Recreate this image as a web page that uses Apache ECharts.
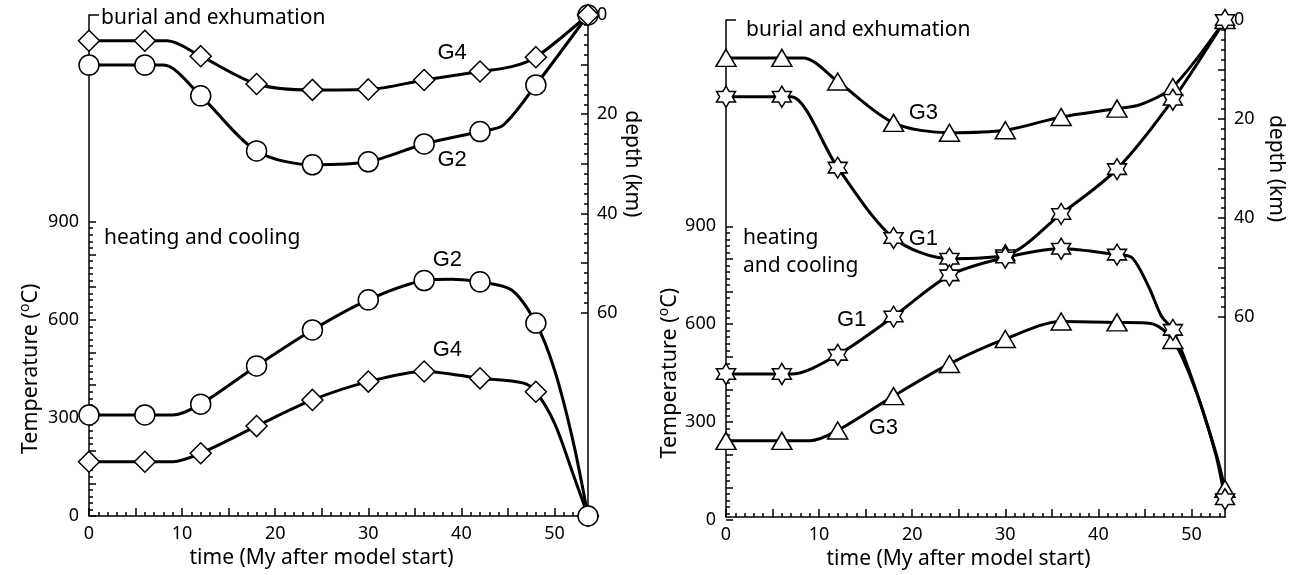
<!DOCTYPE html>
<html>
<head>
<meta charset="utf-8">
<script src="https://cdn.jsdelivr.net/npm/echarts@6/dist/echarts.min.js"></script>
<style>
  html, body { margin: 0; padding: 0; background: #fff; }
  #chart { width: 1297px; height: 575px; }
</style>
</head>
<body>
<div id="chart"></div>
<script>
// Times of the plotted markers (My after model start)
const markTimes = [0, 6, 12, 18, 24, 30, 36, 42, 48, 53.6];

// Left panel: G2 (circles) and G4 (diamonds)
const g2DepthMarks = [10.1, 10.1, 16.3, 27.4, 30.2, 29.6, 26.0, 23.5, 14.1, 0];
const g2DepthExtraT = [8, 44.5];
const g2DepthExtraV = [10.1, 22.2];
const g4DepthMarks = [5.2, 5.2, 8.3, 13.9, 15.1, 15.0, 13.1, 11.4, 8.5, 0];
const g4DepthExtraT = [8.4, 45.4];
const g4DepthExtraV = [5.2, 10.4];
const g2TempMarks = [309, 309, 342, 459, 569, 661, 720, 716, 590, 0];
const g2TempExtraT = [9, 39, 45.4, 50, 52];
const g2TempExtraV = [309, 724, 691, 447, 228];
const g4TempMarks = [166, 166, 192, 275, 355, 411, 442, 421, 380, 0];
const g4TempExtraT = [9, 46.6, 50, 52];
const g4TempExtraV = [166, 407, 284, 128];

// Right panel: G1 (stars) and G3 (triangles)
const g3DepthMarks = [7.7, 7.7, 12.5, 20.9, 22.9, 22.4, 19.7, 18.0, 13.6, 0];
const g3DepthExtraT = [8.3, 44.5];
const g3DepthExtraV = [7.7, 17.2];
const g1DepthMarks = [15.6, 15.6, 30.0, 44.3, 48.5, 47.8, 39.4, 30.3, 16.2, 0];
const g1DepthExtraT = [7];
const g1DepthExtraV = [15.6];
const g1TempMarks = [441, 441, 500, 618, 745, 800, 827, 809, 577, 55];
const g1TempExtraT = [7, 43.6, 45.4, 46.8, 50.4, 52.6];
const g1TempExtraV = [441, 800, 710, 618, 398, 194];
const g3TempMarks = [235, 235, 267, 373, 472, 549, 603, 600, 546, 87];
const g3TempExtraT = [9, 45.6, 50.4, 52.6];
const g3TempExtraV = [235, 597, 395, 200];

// Axis tick labels
const timeLabels = [0, 10, 20, 30, 40, 50];
const tempLabels = [0, 300, 600, 900];
const depthLabels = [0, 20, 40, 60];

// Curve labels: [text, time, value, 'temp' | 'depth']
const leftNotes = [['G4', 39.0, 7.7, 'depth'], ['G2', 39.0, 29.2, 'depth'], ['G2', 38.5, 783, 'temp'], ['G4', 38.5, 508, 'temp']];
const rightNotes = [['G3', 21.2, 18.8, 'depth'], ['G1', 21.2, 44.4, 'depth'], ['G1', 13.5, 607, 'temp'], ['G3', 16.9, 276, 'temp']];

const XMAX = 53.6, TMAX = 1532, DMAX = 101, TTOP = 900, DBOT = 60;
const FONT = 'Noto Sans';

const STAR = 'path://M50 0L64.43 25L93.3 25L78.87 50L93.3 75L64.43 75L50 100L35.57 75L6.7 75L21.13 50L6.7 25L35.57 25Z';

function curve(marks, extraT, extraV) {
  const pts = markTimes.map((t, i) => [t, marks[i]]);
  extraT.forEach((t, i) => pts.push([t, extraV[i]]));
  return pts.sort((a, b) => a[0] - b[0]);
}
function markers(marks) { return markTimes.map((t, i) => [t, marks[i]]); }

const panels = [
  { left: 89, top: 15, width: 499, height: 501, tGap: 46, dGap: 32, xGap: 26,
    curves: [
      { d: curve(g2DepthMarks, g2DepthExtraT, g2DepthExtraV), m: markers(g2DepthMarks), sym: 'circle', size: 20, ax: 'depth' },
      { d: curve(g4DepthMarks, g4DepthExtraT, g4DepthExtraV), m: markers(g4DepthMarks), sym: 'diamond', size: 21, ax: 'depth' },
      { d: curve(g4TempMarks, g4TempExtraT, g4TempExtraV), m: markers(g4TempMarks), sym: 'diamond', size: 21, ax: 'temp' },
      { d: curve(g2TempMarks, g2TempExtraT, g2TempExtraV), m: markers(g2TempMarks), sym: 'circle', size: 20, ax: 'temp' }
    ],
    notes: leftNotes,
    texts: [['burial and exhumation', 101, 18], ['heating and cooling', 104, 238]]
  },
  { left: 726, top: 20, width: 499, height: 500, tGap: 44, dGap: 40, xGap: 26,
    curves: [
      { d: curve(g3DepthMarks, g3DepthExtraT, g3DepthExtraV), m: markers(g3DepthMarks), sym: 'triangle', size: [20, 17], ax: 'depth' },
      { d: curve(g1DepthMarks, g1DepthExtraT, g1DepthExtraV), m: markers(g1DepthMarks), sym: STAR, size: [19, 21], ax: 'depth' },
      { d: curve(g3TempMarks, g3TempExtraT, g3TempExtraV), m: markers(g3TempMarks), sym: 'triangle', size: [20, 17], ax: 'temp' },
      { d: curve(g1TempMarks, g1TempExtraT, g1TempExtraV), m: markers(g1TempMarks), sym: STAR, size: [19, 21], ax: 'temp' }
    ],
    notes: rightNotes,
    texts: [['burial and exhumation', 746, 30], ['heating', 743, 238], ['and cooling', 743, 266]]
  }
];

const grid = [], xAxis = [], yAxis = [], series = [], graphic = [];
const tickLabel = { color: '#000', fontFamily: FONT, fontSize: 18 };
const lineStyle = { color: '#000', width: 1.5 };

panels.forEach((p, pi) => {
  const g0 = grid.length;
  // main plotting area
  grid.push({ left: p.left, top: p.top, width: p.width, height: p.height });
  // tick range of the temperature axis (0-900)
  const tH = p.height * TTOP / TMAX;
  grid.push({ left: p.left, top: p.top + p.height - tH, width: p.width, height: tH });
  // tick range of the depth axis (0-60 km)
  const dH = p.height * DBOT / DMAX;
  grid.push({ left: p.left, top: p.top, width: p.width, height: dH });

  const xMain = xAxis.length;
  xAxis.push({
    gridIndex: g0, type: 'value', min: 0, max: XMAX, position: 'bottom',
    axisLine: { show: true, onZero: false, lineStyle }, splitLine: { show: false },
    axisTick: { show: true, inside: true, length: 8, lineStyle, customValues: [0, 5, 10, 15, 20, 25, 30, 35, 40, 45, 50] },
    axisLabel: { show: true, margin: 9, customValues: timeLabels, ...tickLabel },
    name: 'time (My after model start)', nameLocation: 'middle', nameGap: p.xGap,
    nameTextStyle: { color: '#000', fontFamily: FONT, fontSize: 21, padding: [0, 34, 0, 0] }
  });
  xAxis.push({ gridIndex: g0 + 1, type: 'value', min: 0, max: XMAX, show: false, axisLine: { onZero: false } });
  xAxis.push({ gridIndex: g0 + 2, type: 'value', min: 0, max: XMAX, show: false, axisLine: { onZero: false } });
  const minorT = [];
  for (let t = 0; t <= 53; t++) if (t % 5) minorT.push(t);
  xAxis.push({
    gridIndex: g0, type: 'value', min: 0, max: XMAX, position: 'bottom', offset: 0,
    axisLine: { show: false, onZero: false }, splitLine: { show: false }, axisLabel: { show: false },
    axisTick: { show: true, inside: true, length: 4, lineStyle, customValues: minorT }
  });

  const yTemp = yAxis.length;
  yAxis.push({
    gridIndex: g0, type: 'value', min: 0, max: TMAX, position: 'left',
    axisLine: { show: true, onZero: false, lineStyle }, axisTick: { show: false }, axisLabel: { show: false }, splitLine: { show: false }
  });
  const yDepth = yAxis.length;
  yAxis.push({
    gridIndex: g0, type: 'value', min: 0, max: DMAX, inverse: true, position: 'right',
    axisLine: { show: true, onZero: false, lineStyle }, axisTick: { show: false }, axisLabel: { show: false }, splitLine: { show: false }
  });
  yAxis.push({
    gridIndex: g0 + 1, type: 'value', min: 0, max: TTOP, interval: 100, position: 'left',
    axisLine: { show: false, onZero: false }, splitLine: { show: false },
    axisTick: { show: true, inside: true, length: 7, lineStyle },
    minorTick: { show: true, splitNumber: 5, length: 4, lineStyle },
    axisLabel: { margin: 10, formatter: v => (tempLabels.includes(v) ? String(v) : ''), ...tickLabel },
    name: '{t|Temperature (}{s|o}{t|C)}', nameLocation: 'middle', nameRotate: 90, nameGap: p.tGap,
    nameTextStyle: { color: '#000', rich: {
      t: { fontFamily: FONT, fontSize: 21.5, lineHeight: 25, color: '#000' },
      s: { fontFamily: FONT, fontSize: 14, lineHeight: 14, verticalAlign: 'top', color: '#000' }
    } }
  });
  yAxis.push({
    gridIndex: g0 + 2, type: 'value', min: 0, max: DBOT, interval: 10, inverse: true, position: 'right',
    axisLine: { show: false, onZero: false }, splitLine: { show: false },
    axisTick: { show: true, inside: true, length: 7, lineStyle },
    minorTick: { show: true, splitNumber: 5, length: 4, lineStyle },
    axisLabel: { margin: 9, formatter: v => (depthLabels.includes(v) ? String(v) : ''), ...tickLabel },
    name: 'depth (km)', nameLocation: 'middle', nameRotate: -90, nameGap: p.dGap,
    nameTextStyle: { color: '#000', fontFamily: FONT, fontSize: 21 }
  });

  p.curves.forEach(c => {
    const yi = c.ax === 'temp' ? yTemp : yDepth;
    series.push({
      type: 'line', xAxisIndex: xMain, yAxisIndex: yi, data: c.d, smooth: 0.3,
      showSymbol: false, symbol: 'none', lineStyle: { color: '#000', width: 3 }, z: 2, clip: false, animation: false
    });
  });
  p.curves.forEach((c, ci) => {
    const yi = c.ax === 'temp' ? yTemp : yDepth;
    series.push({
      type: 'scatter', xAxisIndex: xMain, yAxisIndex: yi, data: c.m, symbol: c.sym, symbolSize: c.size,
      itemStyle: { color: '#fff', borderColor: '#000', borderWidth: 1.5, opacity: 1 }, z: 3 + ci, clip: false, animation: false
    });
  });
  const noteLabel = { show: true, position: 'inside', formatter: '{b}', color: '#000', opacity: 1,
    fontFamily: 'Liberation Sans', fontSize: 22, textBorderWidth: 0 };
  series.push({
    type: 'scatter', xAxisIndex: xMain, yAxisIndex: yTemp, symbolSize: 0.01, clip: false, animation: false, z: 10,
    itemStyle: { color: '#000' }, label: noteLabel,
    data: p.notes.filter(n => n[3] === 'temp').map(n => ({ name: n[0], value: [n[1], n[2]] }))
  });
  series.push({
    type: 'scatter', xAxisIndex: xMain, yAxisIndex: yDepth, symbolSize: 0.01, clip: false, animation: false, z: 10,
    itemStyle: { color: '#000' }, label: noteLabel,
    data: p.notes.filter(n => n[3] === 'depth').map(n => ({ name: n[0], value: [n[1], n[2]] }))
  });

  // small cap at the top of the temperature axis
  graphic.push({ type: 'line', shape: { x1: p.left, y1: p.top, x2: p.left + 10, y2: p.top }, style: { stroke: '#000', lineWidth: 1.5 } });
  p.texts.forEach(t => graphic.push({
    type: 'text', x: t[1], y: t[2],
    style: { text: t[0], fill: '#000', font: '21px "' + FONT + '"', textVerticalAlign: 'middle' }
  }));
});

const chart = echarts.init(document.getElementById('chart'), null, { renderer: 'canvas' });
chart.setOption({ animation: false, backgroundColor: '#fff', grid, xAxis, yAxis, series, graphic });
</script>
</body>
</html>
